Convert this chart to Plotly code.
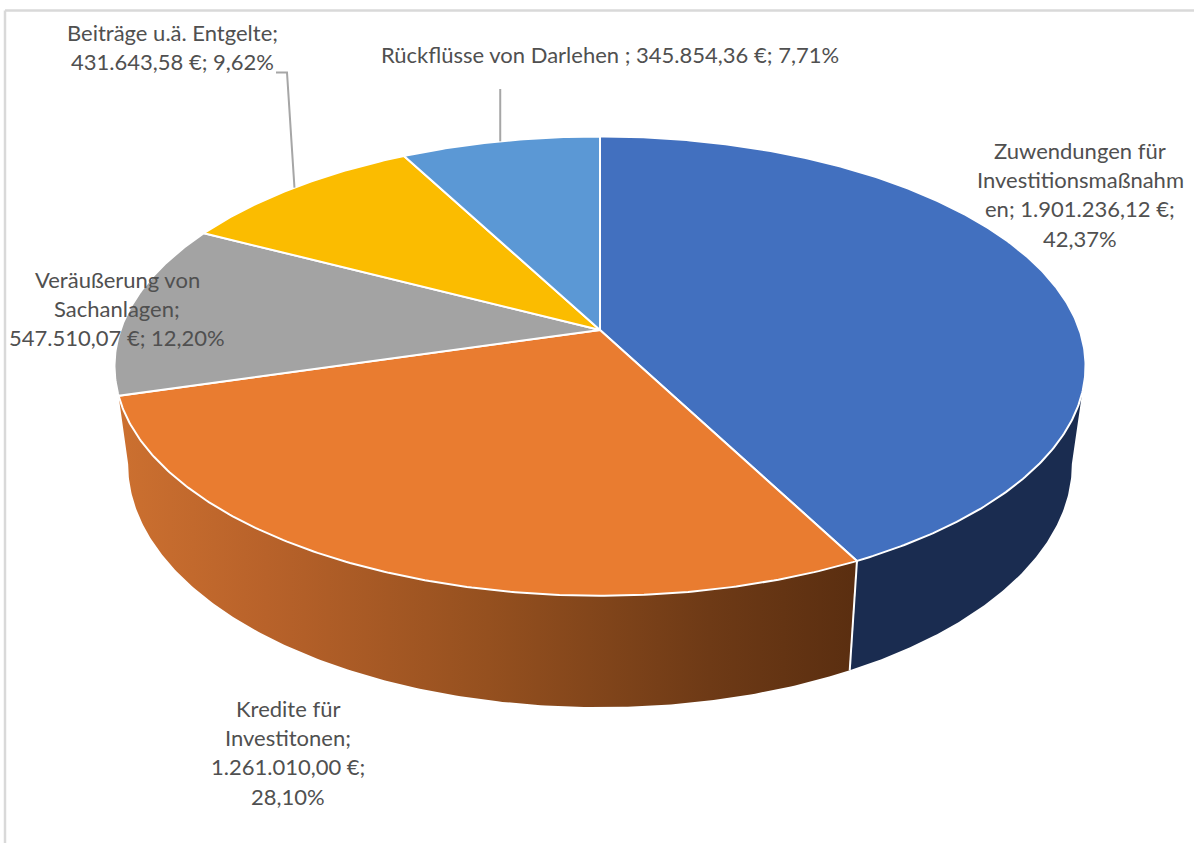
import numpy as np
import plotly.graph_objects as go

# Einnahmen nach Herkunft (Euro), im Uhrzeigersinn ab zwölf Uhr
categories = ["Zuwendungen für Investitionsmaßnahmen", "Kredite für Investitonen",
              "Veräußerung von Sachanlagen", "Beiträge u.ä. Entgelte", "Rückflüsse von Darlehen"]
values = [1901236.12, 1261010.00, 547510.07, 431643.58, 345854.36]
top_colors = ["#4270BF", "#E97C30", "#A3A3A3", "#FBBC00", "#5B98D5"]

label_lines = [
    ["Zuwendungen für", "Investitionsmaßnahm", "en; 1.901.236,12 €;", "42,37%"],
    ["Kredite für", "Investitonen;", "1.261.010,00 €;", "28,10%"],
    ["Veräußerung von", "Sachanlagen;", "547.510,07 €; 12,20%"],
    ["Beiträge u.ä. Entgelte;", "431.643,58 €; 9,62%"],
    ["Rückflüsse von Darlehen ; 345.854,36 €; 7,71%"],
]
label_anchor = [(1080, 150), (288, 708), (117, 279), (172, 32), (610, 54)]
LINE_STEP = 29.4
TEXT_COLOR = "#505050"
FONT = "Lato"
FONT_SIZE = 22

# Perspektive der Kreisscheibe: Ober- und Unterseite
PERSP = 0.157
TOP = dict(cx=600, cy=330, rx=479.5, ry=224)
BOTTOM = dict(cx=600, cy=426, rx=466, ry=237)


def project(deg, plane):
    t = np.radians(deg)
    u, v = np.sin(t), -np.cos(t)
    w = 1 - PERSP * v
    return plane["cx"] + plane["rx"] * u / w, plane["cy"] + plane["ry"] * v / w


def arc(a, b, plane):
    return project(np.linspace(a, b, max(int(abs(b - a) * 2), 2) + 1), plane)


shares = np.array(values) / sum(values)
edges = np.concatenate([[0], np.cumsum(shares)]) * 360

fig = go.Figure()

# Mantelfläche: rechts der blaue, vorne der orange Abschnitt
xt, yt = arc(105.7, edges[1], TOP)
xb, yb = arc(edges[1], 99, BOTTOM)
fig.add_trace(go.Scatter(x=np.r_[xt, xb], y=np.r_[yt, yb], mode="lines", fill="toself",
                         line=dict(width=0), fillcolor="#1A2C50", hoverinfo="skip"))
xt, yt = arc(edges[1], edges[2], TOP)
xb, yb = arc(261, edges[1], BOTTOM)
fig.add_trace(go.Scatter(
    x=np.r_[xt, xb], y=np.r_[yt, yb], mode="lines", fill="toself", line=dict(width=0),
    fillgradient=dict(type="horizontal", colorscale=[
        [0, "#CC7030"], [0.2, "#B8622A"], [0.5, "#95501F"], [0.8, "#6E3A16"], [1, "#5A2E10"]]),
    hoverinfo="skip"))

# Trennkante zwischen den beiden Mantelabschnitten
xt, yt = project(edges[1], TOP)
xb, yb = project(edges[1], BOTTOM)
fig.add_trace(go.Scatter(x=[xt, xb], y=[yt, yb], mode="lines",
                         line=dict(color="white", width=2), hoverinfo="skip"))

# Deckfläche mit den fünf Segmenten
for i, name in enumerate(categories):
    x, y = arc(edges[i], edges[i + 1], TOP)
    fig.add_trace(go.Scatter(
        x=np.r_[TOP["cx"], x, TOP["cx"]], y=np.r_[TOP["cy"], y, TOP["cy"]],
        mode="lines", fill="toself", fillcolor=top_colors[i], name=name,
        line=dict(color="white", width=2), hoverinfo="name"))

# Führungslinien zu den beiden oberen Beschriftungen
mid = (edges[:-1] + edges[1:]) / 2
lx, ly = project(mid[3], TOP)
fig.add_trace(go.Scatter(x=[276, 287, lx], y=[72.5, 72.5, ly], mode="lines",
                         line=dict(color="#A6A6A6", width=2), hoverinfo="skip"))
lx, ly = project(mid[4], TOP)
fig.add_trace(go.Scatter(x=[lx, lx], y=[89, ly], mode="lines",
                         line=dict(color="#A6A6A6", width=2), hoverinfo="skip"))

# Beschriftungen zeilenweise
annotations = []
for lines, (ax, ay) in zip(label_lines, label_anchor):
    for n, line in enumerate(lines):
        annotations.append(dict(x=ax, y=ay + n * LINE_STEP, xref="x", yref="y", text=line,
                                showarrow=False, xanchor="center", yanchor="middle",
                                font=dict(family=FONT, size=FONT_SIZE, color=TEXT_COLOR)))

# Diagrammrahmen oben und links
frame = dict(type="line", xref="x", yref="y", line=dict(color="#D9D9D9", width=2.5))
shapes = [dict(frame, x0=5, x1=1194, y0=10.5, y1=10.5), dict(frame, x0=5, x1=5, y0=10.5, y1=843)]

fig.update_layout(
    width=1194, height=843, margin=dict(l=0, r=0, t=0, b=0),
    paper_bgcolor="white", plot_bgcolor="white", showlegend=False,
    xaxis=dict(range=[0, 1194], visible=False, fixedrange=True),
    yaxis=dict(range=[843, 0], visible=False, fixedrange=True),
    annotations=annotations, shapes=shapes,
)
fig.write_html("out.html", config=dict(displayModeBar=False))
